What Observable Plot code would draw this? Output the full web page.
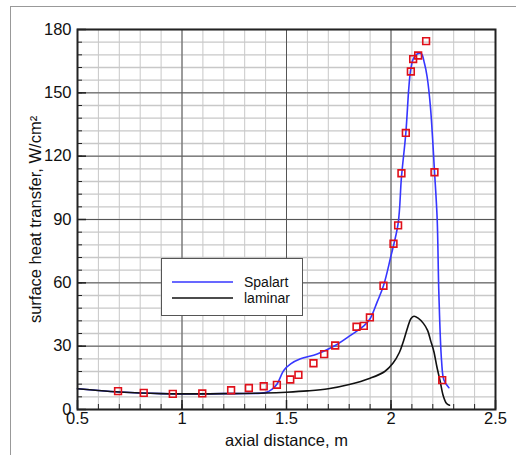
<!DOCTYPE html>
<html><head><meta charset="utf-8">
<script src="https://cdn.jsdelivr.net/npm/d3@7"></script>
<script src="https://cdn.jsdelivr.net/npm/@observablehq/plot@0.6"></script>
<style>
body{margin:0;background:#fff;}
#wrap{position:relative;width:516px;height:455px;overflow:hidden;font-family:"Liberation Sans",Arial,sans-serif;}
#border{position:absolute;left:10px;top:6px;width:520px;height:460px;border-top:1px solid #999;border-left:1px solid #999;pointer-events:none;}
#chart{position:absolute;left:0;top:0;}
#legend{position:absolute;left:161px;top:258px;}
</style></head>
<body>
<div id="wrap"><div id="border"></div><div id="chart"></div><div id="legend"></div></div>
<script>
// laminar solution
const laminarX = [0.5,0.6,0.7,0.8,0.9,1.0,1.1,1.2,1.3,1.4,1.5,1.6,1.7,1.8,1.9,1.97,2.01,2.04,2.06,2.08,2.095,2.11,2.13,2.155,2.175,2.19,2.205,2.22,2.235,2.25,2.265,2.28];
const laminarY = [9.8,9.0,8.3,7.8,7.5,7.4,7.4,7.5,7.6,7.8,8.2,8.8,9.8,11.8,14.8,18.0,22,27,32.5,39,43,44.2,43.3,40.8,37.5,32.5,27.5,20,13.5,6.5,3,2];
// Spalart turbulence model
const spalartX = [0.5,0.6,0.7,0.8,0.9,1.0,1.1,1.2,1.3,1.4,1.43,1.455,1.487,1.52,1.567,1.647,1.733,1.806,1.87,1.9,1.934,1.964,1.998,2.034,2.05,2.071,2.085,2.093,2.106,2.125,2.145,2.16,2.173,2.189,2.208,2.221,2.229,2.242,2.253,2.277];
const spalartY = [9.8,9.0,8.3,7.8,7.5,7.4,7.4,7.5,7.6,8.0,9.5,12.1,18.5,21.6,24.0,26.3,30.3,35.1,39.6,43.0,51.0,58.6,72,88,110,131,152,160,166,168.4,168.5,164,157.5,143,113,90,55,23,14,10.3];
// experimental data
const expX = [0.694,0.817,0.956,1.097,1.235,1.32,1.391,1.454,1.518,1.557,1.629,1.680,1.733,1.835,1.870,1.899,1.964,2.012,2.034,2.050,2.071,2.095,2.106,2.130,2.168,2.208,2.245];
const expY = [8.7,7.9,7.4,7.6,9.1,10.2,11.0,11.7,14.2,16.4,21.9,26.2,30.3,39.2,39.6,43.6,58.6,78.5,87.2,111.9,131.0,160.1,166.0,167.7,174.5,112.4,13.9];

const seriesNames = ["Spalart","laminar"];
const seriesColors = ["#3636ff","#111111"];

const majorX = [0.5,1,1.5,2,2.5];
const xTickLabels = ["0.5","1","1.5","2","2.5"];
const minorX = d3.range(5,26).map(d => d/10);
const majorY = [0,30,60,90,120,150,180];
const minorY = d3.range(0,181,6);

const spalart = spalartX.map((x,i)=>({x, y: spalartY[i]}));
const laminar = laminarX.map((x,i)=>({x, y: laminarY[i]}));
const exp = expX.map((x,i)=>({x, y: expY[i]}));

const chart = Plot.plot({
  width:516, height:455,
  marginLeft:77, marginTop:29, marginRight:21, marginBottom:46,
  style:{fontFamily:"'Liberation Sans', Arial, sans-serif", fontSize:"16px", background:"transparent", color:"#111"},
  x:{domain:[0.5,2.5]},
  y:{domain:[0,180]},
  marks:[
    Plot.gridX(minorX,{stroke:"#c8c8c8", strokeOpacity:1, strokeWidth:1}),
    Plot.gridY(minorY,{stroke:"#c8c8c8", strokeOpacity:1, strokeWidth:1.4}),
    Plot.gridX(majorX,{stroke:"#555", strokeOpacity:1}),
    Plot.gridY(majorY,{stroke:"#555", strokeOpacity:1}),
    Plot.axisY(minorY,{tickSize:-5, tickFormat:()=>"", label:null, stroke:"#222"}),
    Plot.axisX(minorX,{tickSize:-5, tickFormat:()=>"", label:null, stroke:"#222"}),
    Plot.axisY(majorY,{tickSize:-9, tickFormat:()=>"", label:null, stroke:"#222", strokeWidth:1.5}),
    Plot.axisX(majorX,{tickSize:-9, tickFormat:()=>"", label:null, stroke:"#222", strokeWidth:1.5}),
    Plot.axisY(majorY,{tickSize:0, tickPadding:6, fontSize:16.5, label:"surface heat transfer, W/cm²", labelAnchor:"center", labelOffset:48, labelArrow:"none"}),
    Plot.axisX(majorX,{tickSize:0, tickPadding:3, fontSize:16.5, tickFormat:(d,i)=>xTickLabels[i], label:"axial distance, m", labelAnchor:"center", labelOffset:36, labelArrow:"none"}),
    Plot.line(spalart,{x:"x", y:"y", stroke:seriesColors[0], strokeWidth:1.6, curve:"catmull-rom"}),
    Plot.line(laminar,{x:"x", y:"y", stroke:seriesColors[1], strokeWidth:1.6, curve:"catmull-rom"}),
    Plot.dot(exp,{x:"x", y:"y", symbol:"square", r:3.8, stroke:"#e0101a", strokeWidth:1.6, fill:"none"}),
    Plot.frame({stroke:"#222", strokeWidth:2})
  ]
});
document.getElementById("chart").appendChild(chart);

// legend
const lg = d3.select("#legend").append("svg").attr("width",142).attr("height",59);
lg.append("rect").attr("x",0.5).attr("y",0.5).attr("width",141).attr("height",57).attr("fill","#fff").attr("stroke","#555");
seriesNames.forEach((n,i)=>{
  const yy = 24 + i*16;
  lg.append("line").attr("x1",11).attr("x2",72).attr("y1",yy).attr("y2",yy).attr("stroke",seriesColors[i]).attr("stroke-width",1.6);
  lg.append("text").attr("x",83).attr("y",yy+5).text(n).attr("font-size",14).attr("fill","#111").attr("font-family","'Liberation Sans', Arial, sans-serif");
});
</script>
</body></html>
